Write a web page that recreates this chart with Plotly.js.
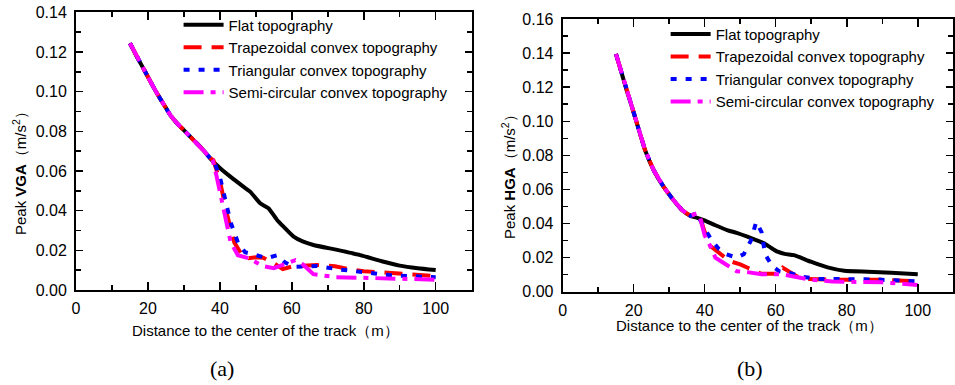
<!DOCTYPE html>
<html><head><meta charset="utf-8">
<script src="https://cdn.plot.ly/plotly-3.0.1.min.js"></script>
<style>html,body{margin:0;padding:0;background:#fff}#chart{width:955px;height:385px}</style>
</head><body><div id="chart"></div>
<script>
// ---------- Panel (a): Peak VGA ----------
const xa_common = [15,16.8,18.7,20.6,22.5,24.4,26.2,28,29.9,31.8,33.6,35.5,37.3];
const ya_common = [0.1244,0.118,0.1118,0.1054,0.0992,0.0935,0.0882,0.0842,0.0807,0.0772,0.074,0.0703,0.0664];
const xa_flat_tail = [40,43,46.6,48.4,51.2,53.5,55.9,57.7,60.5,63,66,72.6,79,85,90,95,100];
const ya_flat_tail = [0.0615,0.057,0.052,0.0496,0.0437,0.0412,0.0353,0.0319,0.0269,0.0245,0.0227,0.0202,0.0176,0.0145,0.0123,0.011,0.0101];
const xa_trap_tail = [38.2,40,42,44,46,48,50,52,55,57.5,60,63,67,72,77,80,90,100];
const ya_trap_tail = [0.0655,0.055,0.038,0.024,0.018,0.016,0.0165,0.0163,0.0135,0.0105,0.0118,0.0122,0.0126,0.012,0.0101,0.0095,0.008,0.007];
const xa_tri_tail = [38.2,40,41.5,43,45,47,50,53,56,58,60.5,64,67,73,80,87,100];
const ya_tri_tail = [0.0655,0.057,0.0445,0.034,0.024,0.019,0.0176,0.016,0.0176,0.014,0.0117,0.012,0.0121,0.0104,0.0087,0.0075,0.0064];
const xa_semi_tail = [38,39,40,41,42,43,45,48,50,52,55,58,61,63,66,72,80,90,100];
const ya_semi_tail = [0.0655,0.058,0.050,0.041,0.033,0.024,0.0175,0.016,0.014,0.012,0.011,0.013,0.015,0.013,0.008,0.0065,0.006,0.0055,0.0052];

// ---------- Panel (b): Peak HGA ----------
const xb_common = [15,16.5,18,19.5,20.9,23.2,25.6,28.4,30.8,33.6,36];
const yb_common = [0.1395,0.129,0.1183,0.1085,0.0988,0.0831,0.0714,0.0616,0.0548,0.0479,0.0445];
const xb_flat_tail = [37.5,39.7,43,46.3,49,52,54.5,56.7,58.5,60.5,62.5,65.1,67.5,69.9,74.6,79.3,85.9,92.5,100];
const yb_flat_tail = [0.0436,0.042,0.039,0.0362,0.0345,0.0323,0.0303,0.0284,0.026,0.0235,0.0222,0.0215,0.0196,0.0176,0.0143,0.0123,0.0117,0.0111,0.0102];
const xb_trap_tail = [37.7,38.5,40,41.5,44,47,50,53,56,61,62,66,69,76,83,90,100];
const yb_trap_tail = [0.046,0.045,0.035,0.027,0.023,0.018,0.016,0.013,0.0105,0.0105,0.014,0.009,0.0075,0.007,0.007,0.007,0.006];
const xb_tri_tail = [37.7,40,42,44,46,49,51,53,54.5,56,57,59,61,64,67,72,80,88,100];
const yb_tri_tail = [0.046,0.037,0.03,0.025,0.022,0.02,0.022,0.03,0.041,0.035,0.022,0.015,0.012,0.011,0.0088,0.0075,0.0073,0.0072,0.006];
const xb_semi_tail = [37.7,38.5,40,41.5,43,46,49,52,56,62,65,69,76,84,90,100];
const yb_semi_tail = [0.046,0.045,0.033,0.027,0.020,0.016,0.012,0.0115,0.0102,0.0102,0.0092,0.0073,0.006,0.0055,0.0055,0.004];

const seriesNames = ["Flat topography","Trapezoidal convex topography","Triangular convex topography","Semi-circular convex topography"];
const xTickVals = [0,20,40,60,80,100];
const xTitle = "Distance to the center of the track（m）";
const yTitleA = "Peak <b>VGA</b>（m/s<sup>2</sup>）";
const yTitleB = "Peak <b>HGA</b>（m/s<sup>2</sup>）";
const panelLabels = ["(a)","(b)"];

const styles = [
  {color:"#000000", dash:"solid", shape:"spline"},
  {color:"#ff0000", dash:"18px,10px", shape:"linear"},
  {color:"#0000ff", dash:"6px,9px", shape:"linear"},
  {color:"#ff00ff", dash:"20px,7px,5px,7px", shape:"linear"}
];

function mk(x, y, i, xa, ya, leg){
  return {x:x, y:y, type:"scatter", mode:"lines", name:seriesNames[i],
    xaxis:xa, yaxis:ya, legend:leg,
    line:{color:styles[i].color, width:4, dash:styles[i].dash, shape:styles[i].shape, smoothing:0.5}};
}

const traces = [
  mk(xa_common.concat(xa_flat_tail), ya_common.concat(ya_flat_tail), 0, "x", "y", "legend"),
  mk(xa_common.concat(xa_trap_tail), ya_common.concat(ya_trap_tail), 1, "x", "y", "legend"),
  mk(xa_common.concat(xa_tri_tail), ya_common.concat(ya_tri_tail), 2, "x", "y", "legend"),
  mk(xa_common.concat(xa_semi_tail), ya_common.concat(ya_semi_tail), 3, "x", "y", "legend"),
  mk(xb_common.concat(xb_flat_tail), yb_common.concat(yb_flat_tail), 0, "x2", "y2", "legend2"),
  mk(xb_common.concat(xb_trap_tail), yb_common.concat(yb_trap_tail), 1, "x2", "y2", "legend2"),
  mk(xb_common.concat(xb_tri_tail), yb_common.concat(yb_tri_tail), 2, "x2", "y2", "legend2"),
  mk(xb_common.concat(xb_semi_tail), yb_common.concat(yb_semi_tail), 3, "x2", "y2", "legend2")
];

const font = {family:"Liberation Sans, Arial, sans-serif", size:16, color:"#000"};
const legendFont = {family:"Liberation Sans, Arial, sans-serif", size:15, color:"#000"};
const titleFont = {family:"Liberation Sans, Arial, sans-serif", size:15, color:"#000"};
function xax(domain, anchor){
  return {domain:domain, anchor:anchor, range:[0,110], tickvals:xTickVals, showgrid:false, zeroline:false,
    showline:true, linecolor:"#000", linewidth:2, mirror:"ticks", ticks:"inside", ticklen:8, tickwidth:1.5, tickcolor:"#000",
    minor:{dtick:10, ticks:"inside", ticklen:5, tickwidth:1.5, tickcolor:"#000"},
    ticklabelstandoff:3, tickfont:font};
}
function yax(domain, anchor, max){
  return {domain:domain, anchor:anchor, range:[0,max], dtick:0.02, tickformat:".2f", showgrid:false, zeroline:false,
    showline:true, linecolor:"#000", linewidth:2, mirror:"ticks", ticks:"inside", ticklen:7, tickwidth:1.5, tickcolor:"#000",
    minor:{dtick:0.01, ticks:"inside", ticklen:5, tickwidth:1.5, tickcolor:"#000"},
    ticklabelstandoff:4, tickfont:font};
}
function ann(text, px, py, f, angle){
  return {text:text, x:px/955, y:1-py/385, xref:"paper", yref:"paper", showarrow:false,
    xanchor:"center", yanchor:"middle", textangle:angle||0, font:f};
}
const serif = {family:"Liberation Serif, Times New Roman, serif", size:22, color:"#000"};

const layout = {
  width:955, height:385, margin:{l:0,r:0,t:0,b:0}, paper_bgcolor:"#fff", plot_bgcolor:"#fff",
  font:font, showlegend:true,
  xaxis: xax([0.0796,0.4939], "y"),
  yaxis: yax([0.2468,0.968], "x", 0.14),
  xaxis2: xax([0.5892,0.9982], "y2"),
  yaxis2: yax([0.2423,0.9506], "x2", 0.16),
  legend:{x:0.187, y:0.978, xanchor:"left", yanchor:"top", bgcolor:"rgba(0,0,0,0)", font:legendFont, tracegroupgap:0, itemwidth:40},
  legend2:{x:0.697, y:0.954, xanchor:"left", yanchor:"top", bgcolor:"rgba(0,0,0,0)", font:legendFont, tracegroupgap:0, itemwidth:40},
  annotations:[
    ann(xTitle, 265, 330, titleFont),
    ann(xTitle, 749, 325, titleFont),
    ann(yTitleA, 20, 170, titleFont, -90),
    ann(yTitleB, 508, 173, titleFont, -90),
    ann(panelLabels[0], 222, 368, serif),
    ann(panelLabels[1], 750, 368, serif)
  ]
};

Plotly.newPlot("chart", traces, layout, {displayModeBar:false, staticPlot:true});
</script></body></html>
